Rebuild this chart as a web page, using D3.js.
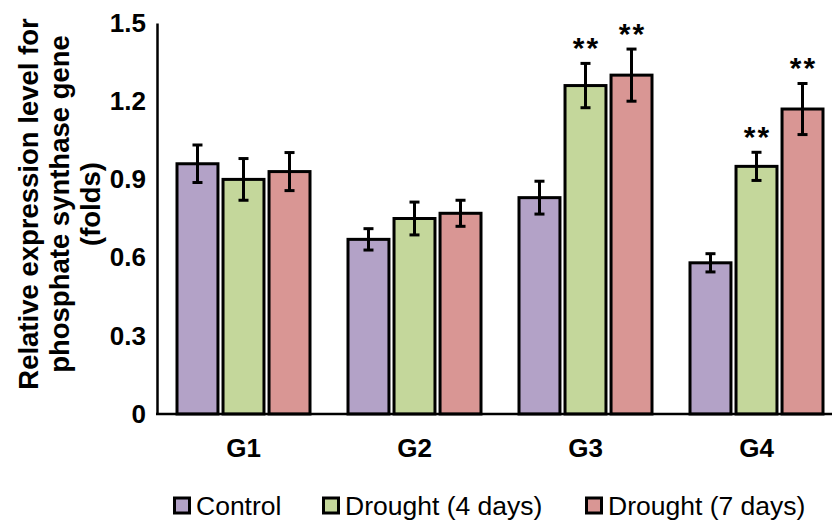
<!DOCTYPE html>
<html>
<head>
<meta charset="utf-8">
<script src="https://cdn.jsdelivr.net/npm/d3@7"></script>
<style>
  html, body { margin: 0; padding: 0; background: #fff; }
  svg { display: block; font-family: Arial, "Liberation Sans", sans-serif; }
</style>
</head>
<body>
<svg id="chart" width="832" height="521"></svg>
<script>
const groups = ['G1', 'G2', 'G3', 'G4'];
const seriesNames = ['Control', 'Drought (4 days)', 'Drought (7 days)'];
const seriesColors = ['#B3A2C7', '#C4D79B', '#D99694'];
const control = [0.96, 0.67, 0.83, 0.58];
const drought4 = [0.90, 0.75, 1.26, 0.95];
const drought7 = [0.93, 0.77, 1.30, 1.17];
const controlErr = [0.072, 0.041, 0.063, 0.035];
const drought4Err = [0.080, 0.063, 0.085, 0.054];
const drought7Err = [0.073, 0.050, 0.100, 0.098];
const drought4Sig = ['', '', '**', '**'];
const drought7Sig = ['', '', '**', '**'];
const yTicks = [0, 0.3, 0.6, 0.9, 1.2, 1.5];

const values = [control, drought4, drought7];
const errors = [controlErr, drought4Err, drought7Err];
const sigs = [[], drought4Sig, drought7Sig];

const rows = [];
groups.forEach((g, gi) => {
  seriesNames.forEach((s, si) => {
    rows.push({ group: g, series: s, si, value: values[si][gi], err: errors[si][gi], sig: sigs[si][gi] || '' });
  });
});

const svg = d3.select('#chart');
const x0 = d3.scaleBand().domain(groups).range([158, 842]);
const x1 = d3.scaleBand().domain(seriesNames).range([19, x0.bandwidth() - 19]).paddingInner(0.11);
const y = d3.scaleLinear().domain([0, 1.5]).range([414, 23]);

// bars
const bars = svg.append('g');
bars.selectAll('rect')
  .data(rows)
  .join('rect')
  .attr('x', d => x0(d.group) + x1(d.series))
  .attr('y', d => y(d.value))
  .attr('width', x1.bandwidth())
  .attr('height', d => y(0) - y(d.value))
  .attr('fill', d => seriesColors[d.si])
  .attr('stroke', '#000')
  .attr('stroke-width', 3);

// error bars
const eb = svg.append('g').attr('stroke', '#000').attr('stroke-width', 3);
rows.forEach(d => {
  const cx = x0(d.group) + x1(d.series) + x1.bandwidth() / 2;
  const yt = y(d.value + d.err), yb = y(d.value - d.err);
  eb.append('line').attr('x1', cx).attr('x2', cx).attr('y1', yt).attr('y2', yb);
  eb.append('line').attr('x1', cx - 5).attr('x2', cx + 5).attr('y1', yt).attr('y2', yt);
  eb.append('line').attr('x1', cx - 5).attr('x2', cx + 5).attr('y1', yb).attr('y2', yb);
});

// significance stars
svg.append('g').selectAll('text')
  .data(rows.filter(d => d.sig))
  .join('text')
  .attr('x', d => x0(d.group) + x1(d.series) + x1.bandwidth() / 2 + 1)
  .attr('y', d => y(d.value + d.err) - 5)
  .attr('text-anchor', 'middle')
  .attr('font-size', 30)
  .attr('font-weight', 'bold')
  .attr('letter-spacing', 2)
  .text(d => d.sig);

// y axis
const yAxis = svg.append('g')
  .attr('transform', 'translate(157,0)')
  .call(d3.axisLeft(y).tickValues(yTicks).tickSize(0).tickPadding(11)
    .tickFormat(d => d === 0 ? '0' : d3.format('.1f')(d)));
yAxis.select('.domain').attr('stroke', '#000').attr('stroke-width', 2.5);
yAxis.selectAll('text').attr('font-size', 26).attr('font-weight', 'bold').attr('fill', '#000')
  .attr('font-family', 'Arial, "Liberation Sans", sans-serif');

// x axis
const xAxis = svg.append('g')
  .attr('transform', `translate(0,${y(0)})`)
  .call(d3.axisBottom(x0).tickSize(0).tickSizeOuter(0));
xAxis.select('.domain').attr('stroke', '#000').attr('stroke-width', 2.5)
  .attr('d', 'M156,0H842');
xAxis.selectAll('text').attr('font-size', 26).attr('font-weight', 'bold').attr('fill', '#000')
  .attr('font-family', 'Arial, "Liberation Sans", sans-serif')
  .attr('y', 43).attr('dy', 0);

// y label
const yLabel = svg.append('text')
  .attr('transform', 'translate(28,204) rotate(-90)')
  .attr('text-anchor', 'middle')
  .attr('font-size', 27.5)
  .attr('font-weight', 'bold');
['Relative expression level for', 'phosphate synthase gene', '(folds)'].forEach((t, i) => {
  yLabel.append('tspan').attr('x', 0).attr('dy', i === 0 ? '0.35em' : 31).text(t);
});

// legend
const legendX = [173, 322, 585];
const legend = svg.append('g');
seriesNames.forEach((s, i) => {
  const g = legend.append('g').attr('transform', `translate(${legendX[i]},498)`);
  g.append('rect').attr('x', 1.5).attr('y', 0).attr('width', 15).attr('height', 15)
    .attr('fill', seriesColors[i]).attr('stroke', '#000').attr('stroke-width', 3);
  g.append('text').attr('x', 23).attr('y', 17).attr('font-size', 26.5).text(s);
});
</script>
</body>
</html>
